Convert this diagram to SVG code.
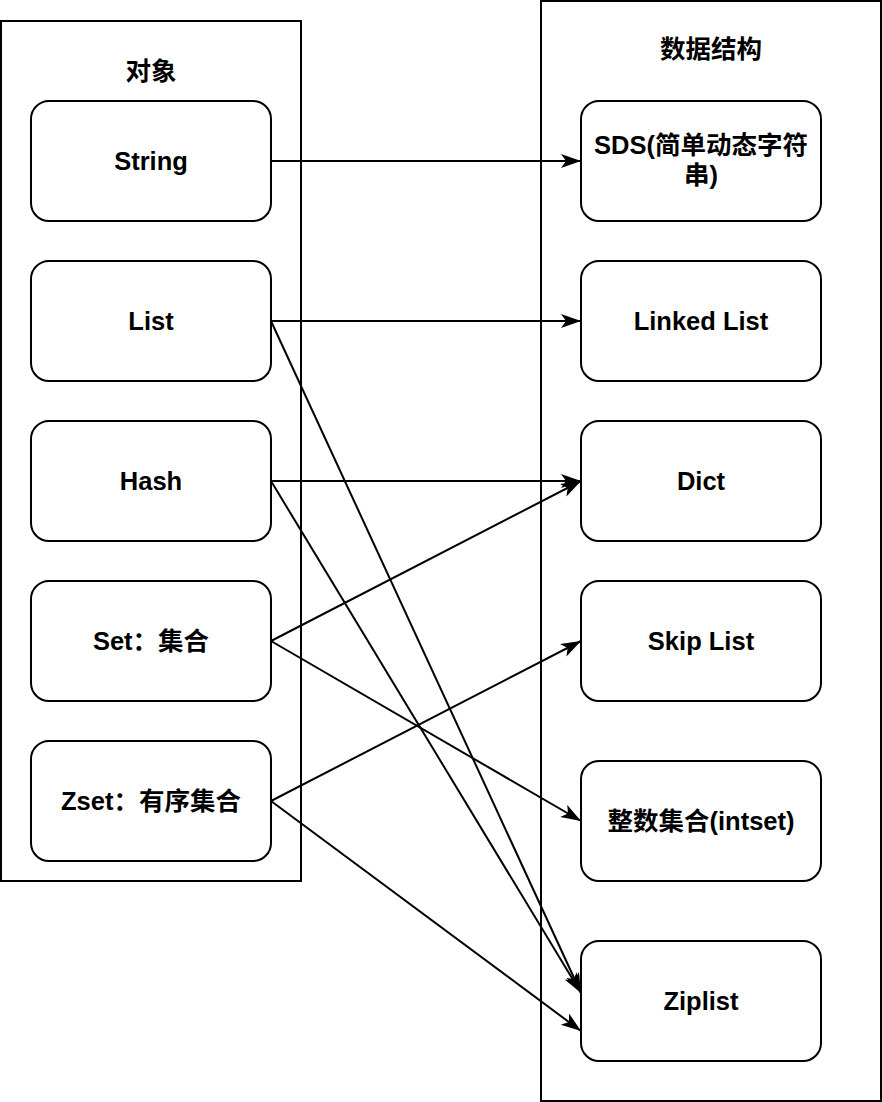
<svg xmlns="http://www.w3.org/2000/svg" width="882" height="1102" viewBox="0 0 882 1102">
<style>
.box{fill:#ffffff;stroke:#000000;stroke-width:2}
.node{fill:#ffffff;stroke:#000000;stroke-width:2}
.t{font-family:"Liberation Sans","Noto Sans CJK SC",sans-serif;font-weight:bold;font-size:25.5px;fill:#000000;text-anchor:middle}
.edge{fill:none;stroke:#000000;stroke-width:2}
</style>
<defs>
<marker id="arr" markerUnits="userSpaceOnUse" markerWidth="22" markerHeight="16" refX="20" refY="7" orient="auto">
<path d="M0,0 L20,7 L0,14 L5,7 Z" fill="#000000"/>
</marker>
</defs>
<g id="container-objects">
<rect class="box" x="1" y="21" width="300" height="860"/>
<text class="t" x="151" y="80">对象</text>
</g>
<g id="container-structures">
<rect class="box" x="541" y="1" width="340" height="1100"/>
<text class="t" x="711" y="58">数据结构</text>
</g>
<g id="node-string">
<rect class="node" x="31" y="101" width="240" height="120" rx="18"/>
<text class="t" x="151" y="170">String</text>
</g>
<g id="node-list">
<rect class="node" x="31" y="261" width="240" height="120" rx="18"/>
<text class="t" x="151" y="330">List</text>
</g>
<g id="node-hash">
<rect class="node" x="31" y="421" width="240" height="120" rx="18"/>
<text class="t" x="151" y="490">Hash</text>
</g>
<g id="node-set">
<rect class="node" x="31" y="581" width="240" height="120" rx="18"/>
<text class="t" x="151" y="650">Set：集合</text>
</g>
<g id="node-zset">
<rect class="node" x="31" y="741" width="240" height="120" rx="18"/>
<text class="t" x="151" y="810">Zset：有序集合</text>
</g>
<g id="node-sds">
<rect class="node" x="581" y="101" width="240" height="120" rx="18"/>
<text class="t" x="701" y="154">SDS(简单动态字符</text>
<text class="t" x="701" y="184">串)</text>
</g>
<g id="node-linkedlist">
<rect class="node" x="581" y="261" width="240" height="120" rx="18"/>
<text class="t" x="701" y="330">Linked List</text>
</g>
<g id="node-dict">
<rect class="node" x="581" y="421" width="240" height="120" rx="18"/>
<text class="t" x="701" y="490">Dict</text>
</g>
<g id="node-skiplist">
<rect class="node" x="581" y="581" width="240" height="120" rx="18"/>
<text class="t" x="701" y="650">Skip List</text>
</g>
<g id="node-intset">
<rect class="node" x="581" y="761" width="240" height="120" rx="18"/>
<text class="t" x="701" y="830">整数集合(intset)</text>
</g>
<g id="node-ziplist">
<rect class="node" x="581" y="941" width="240" height="120" rx="18"/>
<text class="t" x="701" y="1010">Ziplist</text>
</g>
<g id="connectors">
<line class="edge" x1="271" y1="161" x2="581" y2="161" marker-end="url(#arr)"/>
<line class="edge" x1="271" y1="321" x2="581" y2="321" marker-end="url(#arr)"/>
<line class="edge" x1="271" y1="321" x2="581" y2="993" marker-end="url(#arr)"/>
<line class="edge" x1="271" y1="481" x2="581" y2="481" marker-end="url(#arr)"/>
<line class="edge" x1="271" y1="481" x2="581" y2="993" marker-end="url(#arr)"/>
<line class="edge" x1="271" y1="641" x2="581" y2="481" marker-end="url(#arr)"/>
<line class="edge" x1="271" y1="641" x2="581" y2="821" marker-end="url(#arr)"/>
<line class="edge" x1="271" y1="801" x2="581" y2="641" marker-end="url(#arr)"/>
<line class="edge" x1="271" y1="801" x2="581" y2="1031" marker-end="url(#arr)"/>
</g>
</svg>
